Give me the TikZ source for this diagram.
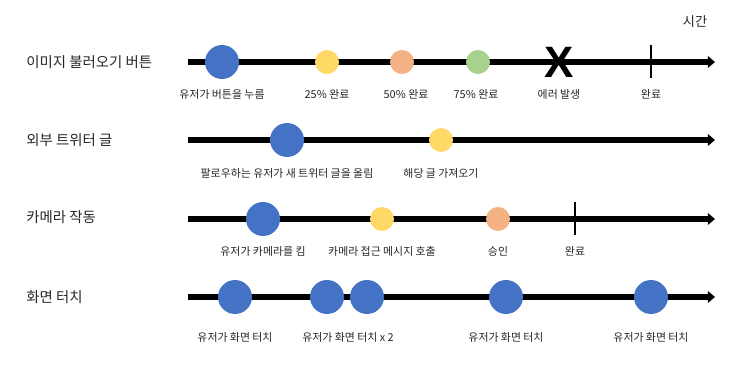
\documentclass[tikz,border=0pt]{standalone}
\usepackage{fontspec}
\setmainfont{Noto Sans CJK KR}
\newfontfamily\marcafont{Liberation Sans}
\usetikzlibrary{
  arrows.meta,
  positioning
}
\definecolor{azul}{HTML}{4472C4}
\definecolor{amarelo}{HTML}{FFD966}
\definecolor{laranja}{HTML}{F4B183}
\definecolor{verde}{HTML}{A9D18E}

\begin{document}
\begin{tikzpicture}[
    x=0.02cm, y=-0.02cm,
    titulo/.style={
    anchor=west,
    inner sep=0pt,
    font=\fontsize{8.2}{10}\selectfont,
    text=black!85
    },
    legenda/.style={
    font=\fontsize{6.2}{7.5}\selectfont,
    text=black!85
    },
    grande/.style={circle, inner sep=0pt, minimum size=0.68cm, fill=azul},
    pequeno/.style={circle, inner sep=0pt, minimum size=0.48cm},
    eixo/.style={line width=0.12cm, -{Triangle[length=4pt,width=6.5pt]}},
    traco/.style={line width=0.04cm}
    ]

    \useasboundingbox (0,0) rectangle (738,378);

    \node[font=\fontsize{7.5}{9}\selectfont, text=black!85] (tempo) at (695,22) {시간};

    % linha 1
    \node[titulo] (r1) at (26,62) {이미지 불러오기 버튼};
    \coordinate (a1) at (188,62);
    \coordinate (b1) at (715,62);
    \draw[eixo] (a1)--(b1);
    \node[grande] (e11) at (222,62) {};
    \node[pequeno, fill=amarelo] (e12) at (327,62) {};
    \node[pequeno, fill=laranja] (e13) at (402,62) {};
    \node[pequeno, fill=verde] (e14) at (478,62) {};
    \node[font=\marcafont\bfseries\fontsize{25}{25}\selectfont, inner sep=0pt] (erro) at (559,62) {X};
    \coordinate (c1a) at (651,45);
    \coordinate (c1b) at (651,78);
    \draw[traco] (c1a)--(c1b);
    \node[legenda] (l11) at (222,94) {유저가 버튼을 누름};
    \node[legenda] (l12) at (327,94) {25\% 완료};
    \node[legenda] (l13) at (406,94) {50\% 완료};
    \node[legenda] (l14) at (476,94) {75\% 완료};
    \node[legenda] (l15) at (559,94) {에러 발생};
    \node[legenda] (l16) at (651,94) {완료};

    % linha 2
    \node[titulo] (r2) at (26,140) {외부 트위터 글};
    \coordinate (a2) at (188,140);
    \coordinate (b2) at (715,140);
    \draw[eixo] (a2)--(b2);
    \node[grande] (e21) at (287,140) {};
    \node[pequeno, fill=amarelo] (e22) at (441,140) {};
    \node[legenda] (l21) at (287,173) {팔로우하는 유저가 새 트위터 글을 올림};
    \node[legenda] (l22) at (441,173) {해당 글 가져오기};

    % linha 3
    \node[titulo] (r3) at (26,217) {카메라 작동};
    \coordinate (a3) at (188,219);
    \coordinate (b3) at (715,219);
    \draw[eixo] (a3)--(b3);
    \node[grande] (e31) at (263,219) {};
    \node[pequeno, fill=amarelo] (e32) at (382,219) {};
    \node[pequeno, fill=laranja] (e33) at (498,219) {};
    \coordinate (c3a) at (575,202);
    \coordinate (c3b) at (575,235);
    \draw[traco] (c3a)--(c3b);
    \node[legenda] (l31) at (263,251) {유저가 카메라를 킴};
    \node[legenda] (l32) at (382,251) {카메라 접근 메시지 호출};
    \node[legenda] (l33) at (498,251) {승인};
    \node[legenda] (l34) at (575,251) {완료};

    % linha 4
    \node[titulo] (r4) at (26,297) {화면 터치};
    \coordinate (a4) at (188,297);
    \coordinate (b4) at (715,297);
    \draw[eixo] (a4)--(b4);
    \node[grande] (e41) at (235,297) {};
    \node[grande] (e42) at (327,297) {};
    \node[grande] (e43) at (367,297) {};
    \node[grande] (e44) at (506,297) {};
    \node[grande] (e45) at (651,297) {};
    \node[legenda] (l41) at (235,337) {유저가 화면 터치};
    \node[legenda] (l42) at (348,337) {유저가 화면 터치 x 2};
    \node[legenda] (l43) at (506,337) {유저가 화면 터치};
    \node[legenda] (l44) at (651,337) {유저가 화면 터치};

\end{tikzpicture}
\end{document}
